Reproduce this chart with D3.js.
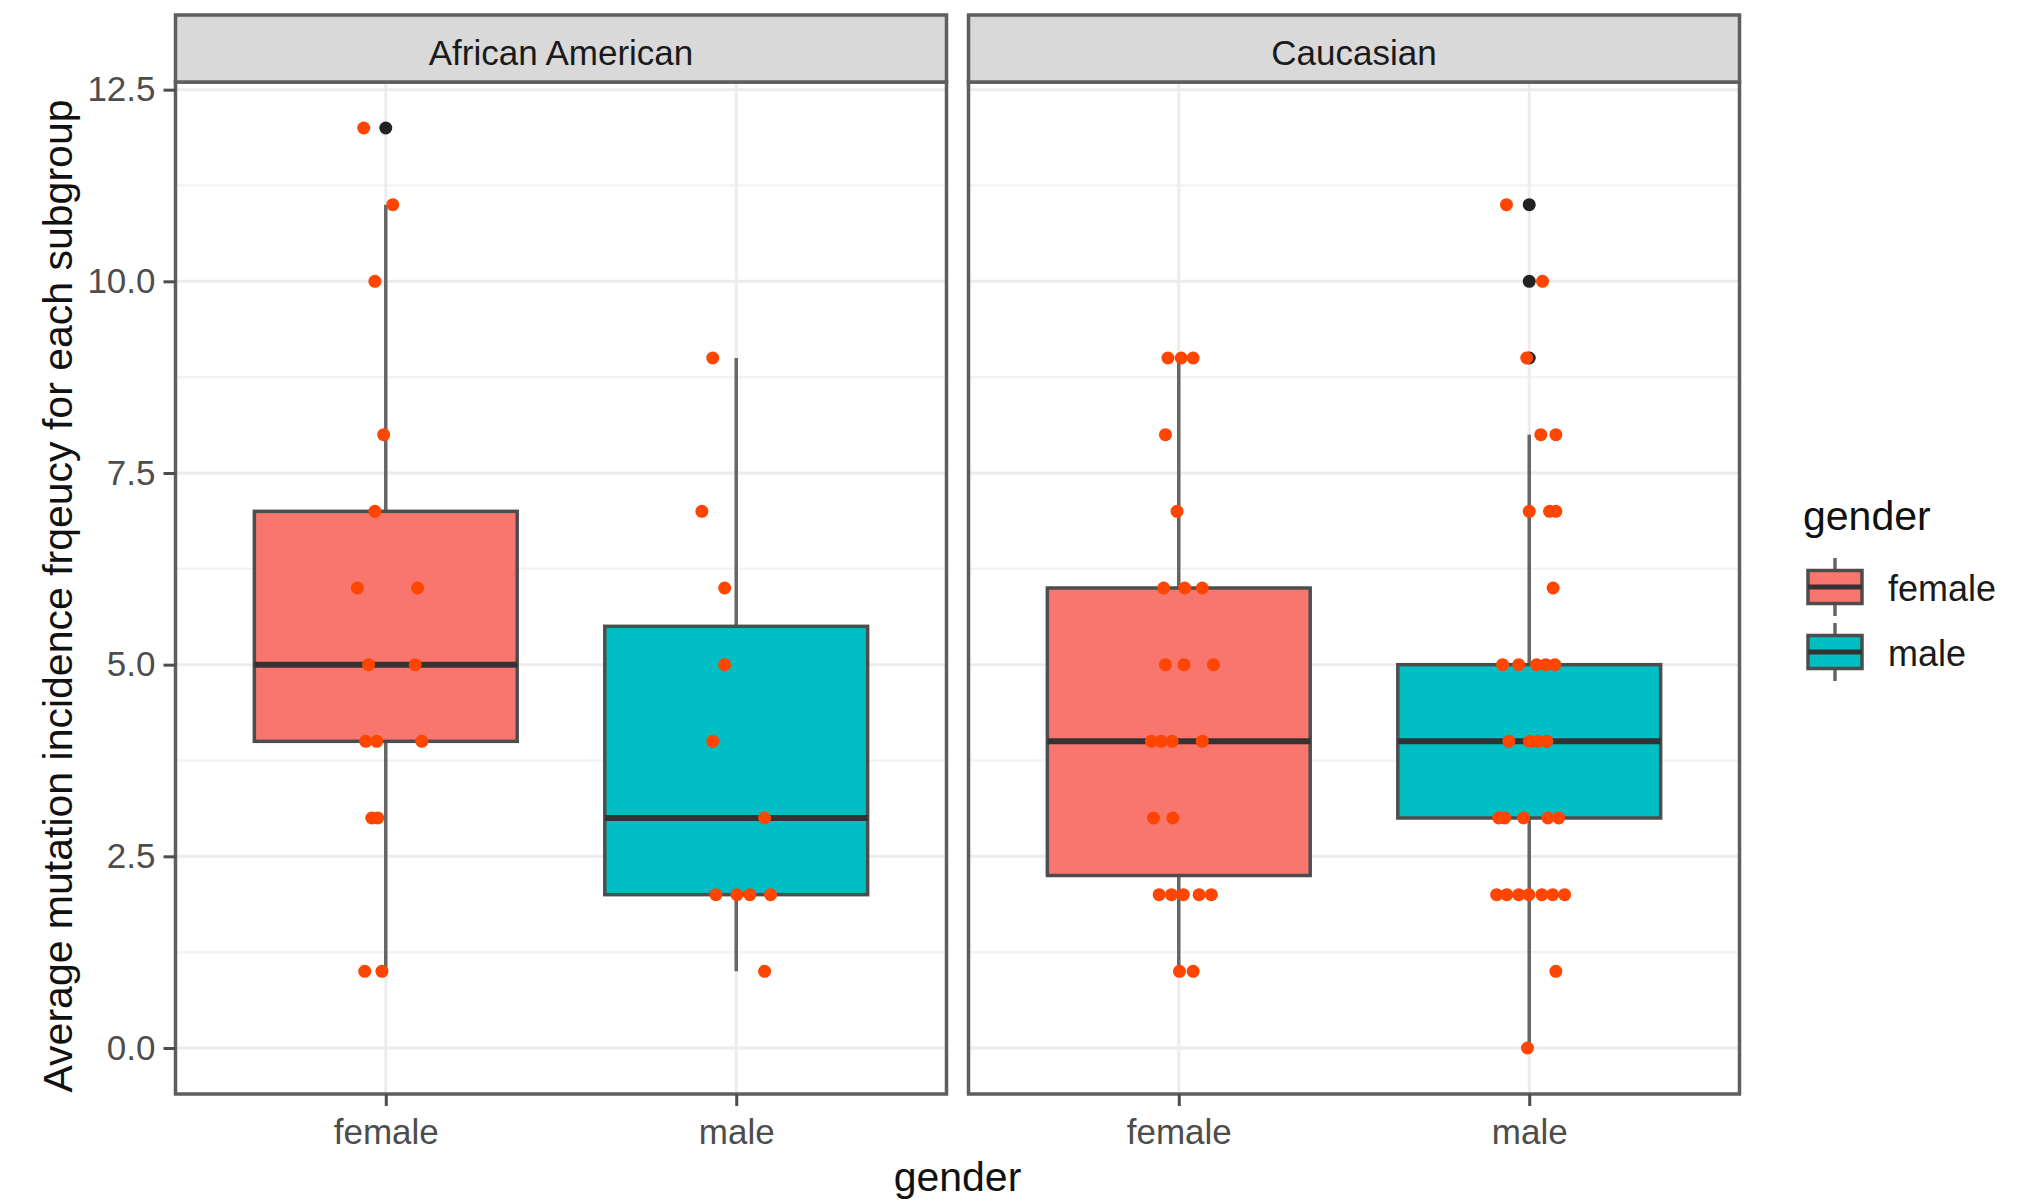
<!DOCTYPE html>
<html>
<head>
<meta charset="utf-8">
<script src="https://cdn.jsdelivr.net/npm/d3@7"></script>
<style>
  body { margin: 0; background: #fff; }
  svg { font-family: "Liberation Sans", Arial, sans-serif; }
</style>
</head>
<body>
<div id="chart"></div>
<script>
// facets and categories
const races = ["African American", "Caucasian"];
const genders = ["female", "male"];
const yTicks = [0, 2.5, 5, 7.5, 10, 12.5];
const yMinor = [1.25, 3.75, 6.25, 8.75, 11.25];

// box stats: lower whisker, Q1, median, Q3, upper whisker
const boxAAFemale = [1, 4, 5, 7, 11];
const boxAAMale = [1, 2, 3, 5.5, 9];
const boxCAFemale = [1, 2.25, 4, 6, 9];
const boxCAMale = [0, 3, 4, 5, 8];

// outliers (black dots)
const outAAFemale = [12];
const outAAMale = [];
const outCAFemale = [];
const outCAMale = [9, 10, 11];

// jittered points: [value, jitter in category units]
const ptsAAFemale = [
  [12, -0.063], [11, 0.020], [10, -0.031], [8, -0.006], [7, -0.031],
  [6, -0.081], [6, 0.091], [5, -0.049], [5, 0.084],
  [4, -0.057], [4, -0.026], [4, 0.103], [3, -0.040], [3, -0.023],
  [1, -0.060], [1, -0.011]
];
const ptsAAMale = [
  [9, -0.067], [7, -0.098], [6, -0.033], [5, -0.033], [4, -0.067], [3, 0.081],
  [2, -0.058], [2, 0.002], [2, 0.039], [2, 0.098], [1, 0.081]
];
const ptsCAFemale = [
  [9, -0.031], [9, 0.007], [9, 0.041], [8, -0.038], [7, -0.005],
  [6, -0.043], [6, 0.017], [6, 0.067], [5, -0.038], [5, 0.015], [5, 0.099],
  [4, -0.078], [4, -0.050], [4, -0.019], [4, 0.067], [3, -0.072], [3, -0.017],
  [2, -0.056], [2, -0.021], [2, 0.013], [2, 0.058], [2, 0.093],
  [1, 0.002], [1, 0.041]
];
const ptsCAMale = [
  [11, -0.065], [10, 0.038], [9, -0.007], [8, 0.033], [8, 0.076],
  [7, 0.000], [7, 0.058], [7, 0.076], [6, 0.068],
  [5, -0.076], [5, -0.030], [5, 0.021], [5, 0.047], [5, 0.073],
  [4, -0.058], [4, 0.001], [4, 0.024], [4, 0.050],
  [3, -0.087], [3, -0.070], [3, -0.016], [3, 0.053], [3, 0.084],
  [2, -0.093], [2, -0.064], [2, -0.030], [2, -0.001], [2, 0.036], [2, 0.067], [2, 0.101],
  [1, 0.076], [0, -0.005]
];

const groups = [
  { race: races[0], gender: "female", box: boxAAFemale, out: outAAFemale, pts: ptsAAFemale },
  { race: races[0], gender: "male", box: boxAAMale, out: outAAMale, pts: ptsAAMale },
  { race: races[1], gender: "female", box: boxCAFemale, out: outCAFemale, pts: ptsCAFemale },
  { race: races[1], gender: "male", box: boxCAMale, out: outCAMale, pts: ptsCAMale }
];

const fills = { female: "#F8766D", male: "#00BFC4" };

// layout
const width = 2018, height = 1201;
const panelTop = 82, panelBottom = 1094;
const panelW = 771, panelH = panelBottom - panelTop;
const panelLeft = [175.5, 968.5];
const stripTop = 15;
const border = "#5e5e5e";

const svg = d3.select("#chart")
  .append("svg")
  .attr("width", width)
  .attr("height", height);

svg.append("rect").attr("width", width).attr("height", height).attr("fill", "#fff");

const y = d3.scaleLinear().domain([-0.6, 12.6]).range([panelH, 0]);
const x = d3.scalePoint().domain(genders).range([0, panelW]).padding(0.6);
const boxW = x.step() * 0.75;

races.forEach((race, i) => {
  const g = svg.append("g").attr("transform", `translate(${panelLeft[i]},${panelTop})`);

  // grid
  g.selectAll(".minor").data(yMinor).enter().append("line")
    .attr("x1", 0).attr("x2", panelW)
    .attr("y1", d => y(d)).attr("y2", d => y(d))
    .attr("stroke", "#F3F3F3").attr("stroke-width", 2.5);
  g.selectAll(".major").data(yTicks).enter().append("line")
    .attr("x1", 0).attr("x2", panelW)
    .attr("y1", d => y(d)).attr("y2", d => y(d))
    .attr("stroke", "#ECECEC").attr("stroke-width", 3);
  g.selectAll(".vmajor").data(genders).enter().append("line")
    .attr("x1", d => x(d)).attr("x2", d => x(d))
    .attr("y1", 0).attr("y2", panelH)
    .attr("stroke", "#ECECEC").attr("stroke-width", 3);

  const data = groups.filter(d => d.race === race);

  // boxplots
  data.forEach(d => {
    const cx = x(d.gender);
    const [lo, q1, med, q3, hi] = d.box;
    const bg = g.append("g");
    bg.append("line").attr("x1", cx).attr("x2", cx).attr("y1", y(q3)).attr("y2", y(hi))
      .attr("stroke", "#666").attr("stroke-width", 3.5);
    bg.append("line").attr("x1", cx).attr("x2", cx).attr("y1", y(q1)).attr("y2", y(lo))
      .attr("stroke", "#666").attr("stroke-width", 3.5);
    bg.append("rect")
      .attr("x", cx - boxW / 2).attr("width", boxW)
      .attr("y", y(q3)).attr("height", y(q1) - y(q3))
      .attr("fill", fills[d.gender])
      .attr("stroke", "#4d4d4d").attr("stroke-width", 3.5);
    bg.append("line")
      .attr("x1", cx - boxW / 2).attr("x2", cx + boxW / 2)
      .attr("y1", y(med)).attr("y2", y(med))
      .attr("stroke", "#333").attr("stroke-width", 6);
    bg.selectAll("circle").data(d.out).enter().append("circle")
      .attr("cx", cx).attr("cy", v => y(v)).attr("r", 6.5)
      .attr("fill", "#222");
  });

  // jittered points
  data.forEach(d => {
    g.append("g").selectAll("circle").data(d.pts).enter().append("circle")
      .attr("cx", p => x(d.gender) + p[1] * x.step())
      .attr("cy", p => y(p[0]))
      .attr("r", 6.5)
      .attr("fill", "#FF4500");
  });

  // panel border
  g.append("rect").attr("width", panelW).attr("height", panelH)
    .attr("fill", "none").attr("stroke", border).attr("stroke-width", 3.5);

  // strip
  const strip = svg.append("g").attr("transform", `translate(${panelLeft[i]},${stripTop})`);
  strip.append("rect").attr("width", panelW).attr("height", panelTop - stripTop)
    .attr("fill", "#D9D9D9").attr("stroke", border).attr("stroke-width", 3.5);
  strip.append("text")
    .attr("x", panelW / 2).attr("y", 50)
    .attr("text-anchor", "middle")
    .attr("font-size", 35).attr("fill", "#1a1a1a")
    .text(race);

  // x axis
  const xa = g.append("g").attr("transform", `translate(0,${panelH})`)
    .call(d3.axisBottom(x).tickSize(12).tickPadding(13));
  xa.select(".domain").remove();
  xa.selectAll("line").attr("stroke", "#4d4d4d").attr("stroke-width", 3);
  xa.selectAll("text").attr("font-size", 35).attr("fill", "#4d4d4d")
    .attr("font-family", "Liberation Sans, Arial, sans-serif");

  // y axis on the first panel only
  if (i === 0) {
    const ya = g.append("g")
      .call(d3.axisLeft(y).tickValues(yTicks).tickFormat(d3.format(".1f")).tickSize(12).tickPadding(8));
    ya.select(".domain").remove();
    ya.selectAll("line").attr("stroke", "#4d4d4d").attr("stroke-width", 3);
    ya.selectAll("text").attr("font-size", 35).attr("fill", "#4d4d4d")
      .attr("font-family", "Liberation Sans, Arial, sans-serif");
  }
});

// axis titles
svg.append("text")
  .attr("x", (panelLeft[0] + panelLeft[1] + panelW) / 2).attr("y", 1191)
  .attr("text-anchor", "middle").attr("font-size", 41).attr("fill", "#111")
  .text("gender");

svg.append("text")
  .attr("transform", `translate(72,${(panelTop + panelBottom) / 2 + 8}) rotate(-90)`)
  .attr("text-anchor", "middle").attr("font-size", 41).attr("fill", "#111")
  .text("Average mutation incidence frqeucy for each subgroup");

// legend
const legend = svg.append("g").attr("transform", "translate(1803,0)");
legend.append("text").attr("x", 0).attr("y", 530)
  .attr("font-size", 41).attr("fill", "#111").text("gender");

const keyY = { female: 587, male: 652 };
genders.forEach(gd => {
  const k = legend.append("g").attr("transform", `translate(32,${keyY[gd]})`);
  k.append("line").attr("x1", 0).attr("x2", 0).attr("y1", -29).attr("y2", 29)
    .attr("stroke", "#666").attr("stroke-width", 3.5);
  k.append("rect").attr("x", -27).attr("width", 54).attr("y", -16.5).attr("height", 33)
    .attr("fill", fills[gd]).attr("stroke", "#4d4d4d").attr("stroke-width", 3.5);
  k.append("line").attr("x1", -27).attr("x2", 27).attr("y1", 0).attr("y2", 0)
    .attr("stroke", "#333").attr("stroke-width", 5);
  legend.append("text").attr("x", 85).attr("y", keyY[gd] + 14)
    .attr("font-size", 36).attr("fill", "#1a1a1a").text(gd);
});
</script>
</body>
</html>
